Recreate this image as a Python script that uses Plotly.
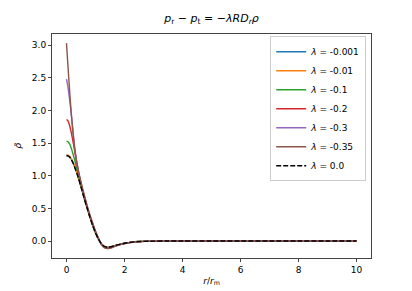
"""
Anisotropic pressure profiles for several values of lambda
"""
import plotly.graph_objects as go

# radial coordinate r / r_m
r_values = [0, 0.05, 0.1, 0.15, 0.2, 0.25, 0.3, 0.4, 0.5, 0.6, 0.7, 0.8,
            0.9, 1.0, 1.1, 1.2, 1.3, 1.4, 1.5, 1.6, 1.8, 2.0, 2.2, 2.5,
            3.0, 3.5, 4, 5, 6, 7, 8, 9, 10]

lambdas = ["-0.001", "-0.01", "-0.1", "-0.2", "-0.3", "-0.35"]

rho_001 = [1.31, 1.305, 1.29, 1.26, 1.22, 1.17, 1.11, 0.98, 0.83, 0.67,
           0.52, 0.375, 0.24, 0.125, 0.03, -0.04, -0.08, -0.095, -0.09,
           -0.08, -0.055, -0.035, -0.02, -0.008, -0.002, 0, 0, 0, 0, 0, 0,
           0, 0]
rho_01 = [1.32, 1.315, 1.30, 1.27, 1.23, 1.18, 1.12, 0.985, 0.835, 0.67,
          0.52, 0.375, 0.24, 0.125, 0.03, -0.04, -0.08, -0.095, -0.09,
          -0.08, -0.055, -0.035, -0.02, -0.008, -0.002, 0, 0, 0, 0, 0, 0,
          0, 0]
rho_1 = [1.53, 1.52, 1.49, 1.44, 1.37, 1.29, 1.21, 1.03, 0.85, 0.68,
         0.53, 0.385, 0.25, 0.135, 0.035, -0.045, -0.085, -0.1, -0.095,
         -0.082, -0.057, -0.036, -0.021, -0.008, -0.002, 0, 0, 0, 0, 0, 0,
         0, 0]
rho_2 = [1.86, 1.84, 1.78, 1.69, 1.58, 1.46, 1.33, 1.08, 0.88, 0.70,
         0.54, 0.395, 0.26, 0.14, 0.04, -0.045, -0.09, -0.105, -0.1,
         -0.085, -0.058, -0.037, -0.021, -0.009, -0.002, 0, 0, 0, 0, 0, 0,
         0, 0]
rho_3 = [2.48, 2.36, 2.19, 2.00, 1.79, 1.57, 1.37, 1.09, 0.89, 0.71,
         0.55, 0.40, 0.27, 0.145, 0.04, -0.05, -0.095, -0.11, -0.105,
         -0.09, -0.06, -0.038, -0.022, -0.009, -0.002, 0, 0, 0, 0, 0, 0,
         0, 0]
rho_35 = [3.03, 2.68, 2.35, 2.04, 1.77, 1.54, 1.35, 1.10, 0.90, 0.73,
          0.56, 0.41, 0.28, 0.15, 0.045, -0.05, -0.10, -0.115, -0.11,
          -0.095, -0.062, -0.039, -0.022, -0.009, -0.002, 0, 0, 0, 0, 0,
          0, 0, 0]
rho_0 = [1.31, 1.305, 1.29, 1.26, 1.22, 1.17, 1.11, 0.98, 0.83, 0.67,
         0.52, 0.375, 0.24, 0.125, 0.03, -0.04, -0.08, -0.095, -0.09,
         -0.08, -0.055, -0.035, -0.02, -0.008, -0.002, 0, 0, 0, 0, 0, 0,
         0, 0]

colours = ["#1f77b4", "#ff7f0e", "#2ca02c", "#d62728", "#9467bd", "#8c564b"]
font = "DejaVu Sans"

fig = go.Figure()
for lam, rho, colour in zip(
    lambdas, [rho_001, rho_01, rho_1, rho_2, rho_3, rho_35], colours
):
    fig.add_trace(
        go.Scatter(
            x=r_values,
            y=rho,
            mode="lines",
            name=f"<i>λ</i> = {lam}",
            line=dict(color=colour, width=1.4, shape="spline", smoothing=0.8),
        )
    )

fig.add_trace(
    go.Scatter(
        x=r_values,
        y=rho_0,
        mode="lines",
        name="<i>λ</i> = 0.0",
        line=dict(color="black", width=1.4, dash="5px,2px",
                  shape="spline", smoothing=0.8),
    )
)

axis_style = dict(
    showline=True,
    mirror=True,
    linecolor="#444",
    linewidth=1,
    ticks="outside",
    ticklen=3,
    tickcolor="#444",
    showgrid=False,
    zeroline=False,
    automargin=False,
    tickfont=dict(family=font, size=9, color="black"),
)

# the page body adds an 8px margin, so the figure is 8px smaller
fig.update_layout(
    width=404,
    height=283,
    margin=dict(l=44, r=41, t=26, b=33),
    paper_bgcolor="white",
    plot_bgcolor="white",
    font=dict(family=font, size=9, color="black"),
    title=dict(
        text="<i>p</i><sub>r</sub> − <i>p</i><sub>t</sub> = −<i>λRD</i>"
        "<sub><i>r</i></sub><i>ρ</i>",
        x=0.5,
        xref="paper",
        xanchor="center",
        y=0.95,
        yanchor="bottom",
        automargin=False,
        font=dict(family=font, size=11, color="black"),
    ),
    xaxis=dict(
        **axis_style,
        range=[-0.5, 10.5],
        tickvals=[0, 2, 4, 6, 8, 10],
        title=dict(text="<i>r</i>/<i>r</i><sub>m</sub>", standoff=3,
                   font=dict(family=font, size=9, color="black")),
    ),
    yaxis=dict(
        **axis_style,
        range=[-0.26, 3.17],
        tickvals=[0, 0.5, 1, 1.5, 2, 2.5, 3],
        tickformat=".1f",
        title=dict(text="<i>ρ̃</i>", standoff=8,
                   font=dict(family=font, size=9, color="black")),
    ),
    legend=dict(
        x=0.985,
        y=0.99,
        xanchor="right",
        yanchor="top",
        bgcolor="rgba(255,255,255,0.8)",
        bordercolor="#ccc",
        borderwidth=1,
        itemwidth=30,
        font=dict(family=font, size=9, color="black"),
        tracegroupgap=0,
    ),
    showlegend=True,
)

fig.write_html("out.html")
